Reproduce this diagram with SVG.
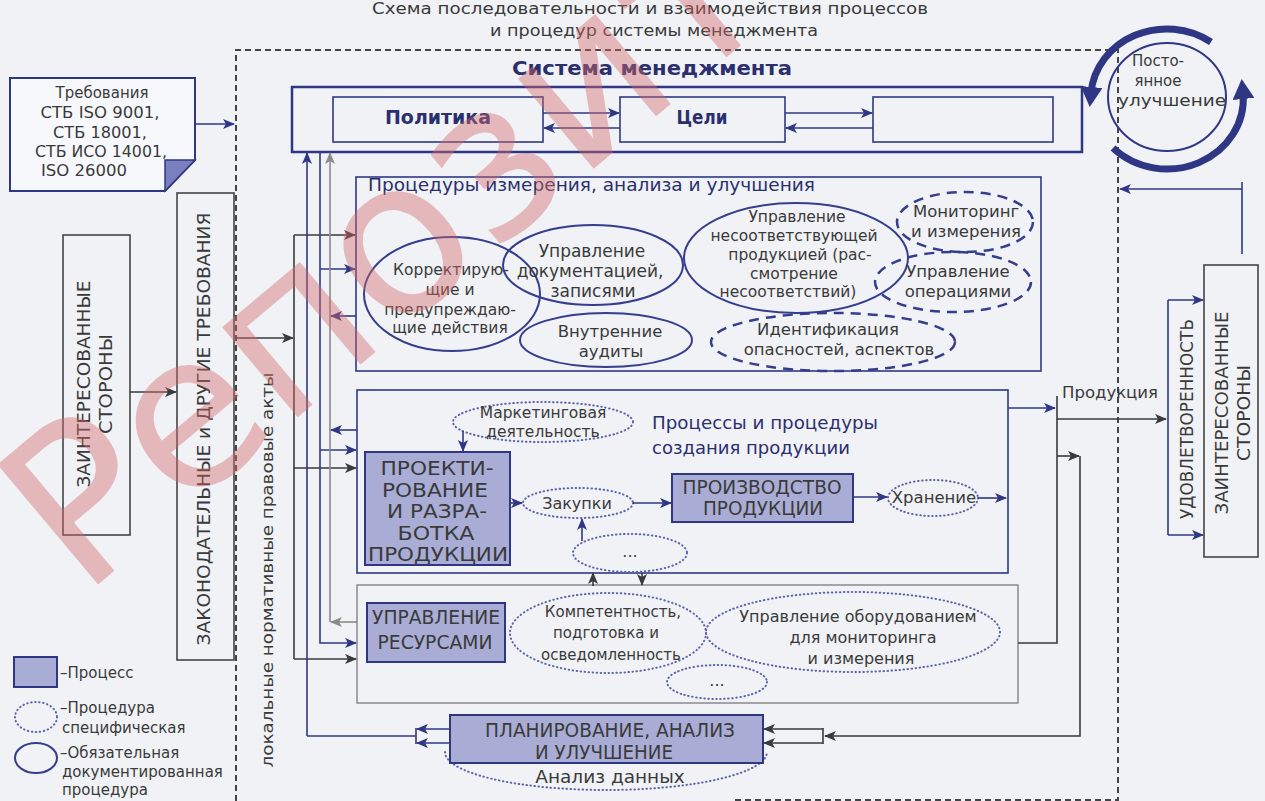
<svg xmlns="http://www.w3.org/2000/svg" width="1265" height="801" viewBox="0 0 1265 801">
<defs>
<marker id="an" markerUnits="userSpaceOnUse" markerWidth="12" markerHeight="10" refX="11" refY="5" orient="auto"><path d="M0,0 L12,5 L0,10 L3,5 z" fill="#2f3785"/></marker>
<marker id="ad" markerUnits="userSpaceOnUse" markerWidth="12" markerHeight="10" refX="11" refY="5" orient="auto"><path d="M0,0 L12,5 L0,10 L3,5 z" fill="#3a3a3a"/></marker>
<marker id="ag" markerUnits="userSpaceOnUse" markerWidth="12" markerHeight="10" refX="11" refY="5" orient="auto"><path d="M0,0 L12,5 L0,10 L3,5 z" fill="#8a8a8a"/></marker>
<marker id="ab" markerUnits="userSpaceOnUse" markerWidth="22" markerHeight="22" refX="6" refY="11" orient="auto"><path d="M0,0 L20,11 L0,22 z" fill="#2f3785"/></marker>
</defs>
<style>
.t{font-family:"DejaVu Sans",Verdana,sans-serif;fill:#3a3a3a}
.c{text-anchor:middle}
.nt{fill:#2b2f6e}
.b{font-weight:bold}
.bx{fill:none;stroke:#2f3785;stroke-width:1.6}
.pr{fill:#a9add6;stroke:#2f3785;stroke-width:2}
.el{fill:none;stroke:#353d8c;stroke-width:2}
.dt{fill:none;stroke:#5d64aa;stroke-width:2;stroke-dasharray:0.5 3.5;stroke-linecap:round}
.ds{fill:none;stroke:#353d8c;stroke-width:2.5;stroke-dasharray:10 7}
.ln{fill:none;stroke-width:1.6}
.n{stroke:#2f3785}
.d{stroke:#3a3a3a}
.g{stroke:#8a8a8a}
</style>
<rect width="1265" height="801" fill="#f0f2f6"/>

<g id="title">
<text class="t c" x="650" y="14" font-size="16.5" textLength="556" lengthAdjust="spacingAndGlyphs">Схема последовательности и взаимодействия процессов</text>
<text class="t c" x="654" y="36" font-size="16.5" textLength="328" lengthAdjust="spacingAndGlyphs">и процедур системы менеджмента</text>
</g>

<g id="boundary">
<path d="M236,801 V50 H1118 V800 H733" fill="none" stroke="#444" stroke-width="2" stroke-dasharray="6 4"/>
<text class="t c nt b" x="652" y="75" font-size="20" textLength="280" lengthAdjust="spacingAndGlyphs">Система менеджмента</text>
</g>

<g id="requirements">
<path d="M10,78 H195 V160 L165,191 H10 Z" fill="#f7f8fb" stroke="#2f3785" stroke-width="2"/>
<path d="M165,191 V160 H195 Z" fill="#7a80bd" stroke="#2f3785" stroke-width="1.5"/>
<text class="t c" x="102" y="98" font-size="15.5" textLength="93" lengthAdjust="spacingAndGlyphs">Требования</text>
<text class="t c" x="100" y="118" font-size="16" textLength="119" lengthAdjust="spacingAndGlyphs">СТБ ISO 9001,</text>
<text class="t c" x="100" y="138" font-size="16" textLength="94" lengthAdjust="spacingAndGlyphs">СТБ 18001,</text>
<text class="t c" x="101" y="157" font-size="16" textLength="132" lengthAdjust="spacingAndGlyphs">СТБ ИСО 14001,</text>
<text class="t" x="41" y="176" font-size="16" textLength="86" lengthAdjust="spacingAndGlyphs">ISO 26000</text>
</g>

<g id="parties-left">
<rect x="63" y="235" width="67" height="300" fill="none" stroke="#444" stroke-width="1.6"/>
<g transform="translate(96,384) rotate(-90)">
<text class="t c" x="0" y="-6" font-size="17" textLength="207" lengthAdjust="spacingAndGlyphs">ЗАИНТЕРЕСОВАННЫЕ</text>
<text class="t c" x="0" y="16" font-size="17" textLength="100" lengthAdjust="spacingAndGlyphs">СТОРОНЫ</text>
</g>
</g>

<g id="legislation">
<text class="t c" transform="translate(203,429) rotate(-90)" x="0" y="7" font-size="17" textLength="433" lengthAdjust="spacingAndGlyphs">ЗАКОНОДАТЕЛЬНЫЕ и ДРУГИЕ ТРЕБОВАНИЯ</text>
<rect x="177" y="193" width="57" height="467" fill="none" stroke="#444" stroke-width="1.6"/>
</g>

<g id="local-acts">
<text class="t c" transform="translate(268,570) rotate(-90)" x="0" y="5" font-size="16" textLength="395" lengthAdjust="spacingAndGlyphs">локальные нормативные правовые акты</text>
</g>

<g id="policy-block">
<rect x="292" y="87" width="790" height="65" fill="none" stroke="#2f3785" stroke-width="2.5"/>
<rect x="333" y="97" width="210" height="45" class="bx"/>
<text class="t c nt b" x="438" y="124" font-size="19" textLength="106" lengthAdjust="spacingAndGlyphs">Политика</text>
<rect x="620" y="97" width="165" height="45" class="bx"/>
<text class="t c nt b" x="702" y="124" font-size="19" textLength="51" lengthAdjust="spacingAndGlyphs">Цели</text>
<rect x="873" y="97" width="180" height="45" class="bx"/>
</g>

<g id="improvement">
<ellipse cx="1167" cy="97" rx="59" ry="54" fill="none" stroke="#2f3785" stroke-width="2"/>
<path d="M1211,42 A76,70 0 0 0 1091,93" fill="none" stroke="#2f3785" stroke-width="7" marker-end="url(#ab)"/>
<path d="M1113,148 A76,70 0 0 0 1243,93" fill="none" stroke="#2f3785" stroke-width="7" marker-end="url(#ab)"/>
<text class="t c" x="1158" y="66" font-size="15">Посто-</text>
<text class="t c" x="1158" y="86" font-size="15">янное</text>
<text class="t c" x="1172" y="106" font-size="16" textLength="108" lengthAdjust="spacingAndGlyphs">улучшение</text>
</g>

<g id="measurement">
<rect x="356" y="177" width="685" height="194" class="bx"/>
<text class="t nt" x="368" y="191" font-size="18" textLength="447" lengthAdjust="spacingAndGlyphs">Процедуры измерения, анализа и улучшения</text>
<ellipse class="el" cx="452" cy="294" rx="88" ry="57"/>
<text class="t c" x="451" y="275" font-size="15.5">Корректирую-</text>
<text class="t c" x="450" y="295" font-size="15.5">щие и</text>
<text class="t c" x="450" y="315" font-size="15.5">предупреждаю-</text>
<text class="t c" x="450" y="333" font-size="15.5">щие действия</text>
<ellipse class="el" cx="593" cy="265" rx="90" ry="40"/>
<text class="t c" x="592" y="257" font-size="17">Управление</text>
<text class="t c" x="590" y="277" font-size="17">документацией,</text>
<text class="t c" x="593" y="297" font-size="17">записями</text>
<ellipse class="el" cx="606" cy="340" rx="86" ry="27"/>
<text class="t c" x="610" y="337" font-size="16.5">Внутренние</text>
<text class="t c" x="611" y="357" font-size="16.5">аудиты</text>
<ellipse class="el" cx="796" cy="258" rx="112" ry="55"/>
<text class="t c" x="797" y="222" font-size="15.5">Управление</text>
<text class="t c" x="794" y="241" font-size="15.5">несоответствующей</text>
<text class="t c" x="800" y="260" font-size="15.5">продукцией (рас-</text>
<text class="t c" x="794" y="279" font-size="15.5">смотрение</text>
<text class="t c" x="788" y="297" font-size="15.5">несоответствий)</text>
<ellipse class="ds" cx="965" cy="222" rx="68" ry="30"/>
<text class="t c" x="966" y="217" font-size="16.5">Мониторинг</text>
<text class="t c" x="966" y="237" font-size="16.5">и измерения</text>
<ellipse class="ds" cx="953" cy="282" rx="78" ry="30"/>
<text class="t c" x="958" y="277" font-size="16.5">Управление</text>
<text class="t c" x="958" y="297" font-size="16.5">операциями</text>
<ellipse class="ds" cx="833" cy="342" rx="122" ry="29"/>
<text class="t c" x="828" y="335" font-size="16.5">Идентификация</text>
<text class="t c" x="839" y="355" font-size="16.5">опасностей, аспектов</text>
</g>

<g id="production">
<rect x="357" y="390" width="651" height="183" class="bx"/>
<text class="t nt" x="652" y="429" font-size="18" textLength="226" lengthAdjust="spacingAndGlyphs">Процессы и процедуры</text>
<text class="t nt" x="652" y="454" font-size="18" textLength="198" lengthAdjust="spacingAndGlyphs">создания продукции</text>
<ellipse class="dt" cx="543" cy="422" rx="90" ry="20"/>
<text class="t c" x="543" y="418" font-size="15.5">Маркетинговая</text>
<text class="t c" x="543" y="437" font-size="15.5">деятельность</text>
<rect x="365" y="452" width="145" height="113" class="pr"/>
<text class="t c" x="437" y="475" font-size="19.5" textLength="113" lengthAdjust="spacingAndGlyphs">ПРОЕКТИ-</text>
<text class="t c" x="435" y="497" font-size="19.5" textLength="106" lengthAdjust="spacingAndGlyphs">РОВАНИЕ</text>
<text class="t c" x="437" y="518" font-size="19.5" textLength="100" lengthAdjust="spacingAndGlyphs">И РАЗРА-</text>
<text class="t c" x="436" y="540" font-size="19.5" textLength="77" lengthAdjust="spacingAndGlyphs">БОТКА</text>
<text class="t c" x="438" y="561" font-size="19.5" textLength="140" lengthAdjust="spacingAndGlyphs">ПРОДУКЦИИ</text>
<ellipse class="dt" cx="578" cy="503" rx="55" ry="15"/>
<text class="t c" x="577" y="509" font-size="16">Закупки</text>
<rect x="672" y="474" width="181" height="48" class="pr"/>
<text class="t c" x="762" y="494" font-size="19.5" textLength="159" lengthAdjust="spacingAndGlyphs">ПРОИЗВОДСТВО</text>
<text class="t c" x="763" y="515" font-size="19.5" textLength="120" lengthAdjust="spacingAndGlyphs">ПРОДУКЦИИ</text>
<ellipse class="dt" cx="933" cy="498" rx="45" ry="18"/>
<text class="t c" x="934" y="503" font-size="16.5">Хранение</text>
<ellipse class="dt" cx="630" cy="553" rx="57" ry="19"/>
<text class="t c" x="630" y="557" font-size="16">...</text>
</g>

<g id="resources">
<rect x="357" y="585" width="661" height="118" fill="none" stroke="#7a7a7a" stroke-width="1.3"/>
<rect x="367" y="603" width="138" height="59" class="pr"/>
<text class="t c" x="436" y="624" font-size="19.5" textLength="128" lengthAdjust="spacingAndGlyphs">УПРАВЛЕНИЕ</text>
<text class="t c" x="435" y="649" font-size="19.5" textLength="115" lengthAdjust="spacingAndGlyphs">РЕСУРСАМИ</text>
<ellipse class="dt" cx="608" cy="633" rx="98" ry="40"/>
<text class="t c" x="613" y="617" font-size="15">Компетентность,</text>
<text class="t c" x="606" y="638" font-size="15">подготовка и</text>
<text class="t c" x="611" y="660" font-size="15">осведомленность</text>
<ellipse class="dt" cx="853" cy="632" rx="147" ry="40"/>
<text class="t c" x="858" y="622" font-size="16">Управление оборудованием</text>
<text class="t c" x="863" y="643" font-size="16">для мониторинга</text>
<text class="t c" x="861" y="664" font-size="16">и измерения</text>
<ellipse class="dt" cx="717" cy="682" rx="50" ry="17"/>
<text class="t c" x="717" y="686" font-size="16">...</text>
</g>

<g id="planning">
<path class="dt" d="M445,752 A161,38 0 0 0 767,752"/>
<rect x="450" y="715" width="313" height="48" class="pr"/>
<text class="t c" x="610" y="737" font-size="19.5" textLength="250" lengthAdjust="spacingAndGlyphs">ПЛАНИРОВАНИЕ, АНАЛИЗ</text>
<text class="t c" x="604" y="759" font-size="19.5" textLength="138" lengthAdjust="spacingAndGlyphs">И УЛУЧШЕНИЕ</text>
<text class="t c" x="610" y="783" font-size="18.5">Анализ данных</text>
</g>

<g id="satisfaction">
<text class="t c" transform="translate(1186,419) rotate(-90)" x="0" y="7" font-size="17" textLength="200" lengthAdjust="spacingAndGlyphs">УДОВЛЕТВОРЕННОСТЬ</text>
</g>

<g id="parties-right">
<rect x="1204" y="265" width="54" height="292" fill="none" stroke="#444" stroke-width="1.6"/>
<g transform="translate(1231,413) rotate(-90)">
<text class="t c" x="0" y="-3" font-size="17" textLength="203" lengthAdjust="spacingAndGlyphs">ЗАИНТЕРЕСОВАННЫЕ</text>
<text class="t c" x="0" y="19" font-size="17" textLength="96" lengthAdjust="spacingAndGlyphs">СТОРОНЫ</text>
</g>
</g>

<g id="product-label">
<text class="t" x="1062" y="398" font-size="16" textLength="96" lengthAdjust="spacingAndGlyphs">Продукция</text>
</g>

<g id="legend">
<rect x="14" y="657" width="43" height="30" class="pr"/>
<text class="t" x="60" y="678" font-size="15">–Процесс</text>
<ellipse class="dt" cx="36" cy="717" rx="21" ry="15" stroke-width="1.5"/>
<text class="t" x="60" y="713" font-size="15">–Процедура</text>
<text class="t" x="62" y="733" font-size="15">специфическая</text>
<ellipse class="el" cx="36" cy="758" rx="21" ry="15"/>
<text class="t" x="60" y="758" font-size="15">–Обязательная</text>
<text class="t" x="62" y="777" font-size="15">документированная</text>
<text class="t" x="62" y="795" font-size="15">процедура</text>
</g>

<g id="connectors">
<path class="ln n" d="M195,124 H234" marker-end="url(#an)"/>
<path class="ln d" d="M130,392 H176" marker-end="url(#ad)"/>
<path class="ln n" d="M543,113 H619" marker-end="url(#an)"/>
<path class="ln n" d="M620,128 H544" marker-end="url(#an)"/>
<path class="ln n" d="M785,113 H872" marker-end="url(#an)"/>
<path class="ln n" d="M873,128 H786" marker-end="url(#an)"/>
<path class="ln d" d="M294,235 V659"/>
<path class="ln d" d="M294,235 H355" marker-end="url(#ad)"/>
<path class="ln d" d="M294,468 H356" marker-end="url(#ad)"/>
<path class="ln d" d="M294,659 H356" marker-end="url(#ad)"/>
<path class="ln d" d="M236,338 H293" marker-end="url(#ad)"/>
<path class="ln n" d="M307,736 V153" marker-end="url(#an)"/>
<path class="ln n" d="M416,736 H307"/>
<path class="ln n" d="M320,152 V643 H356" marker-end="url(#an)"/>
<path class="ln n" d="M320,269 H355" marker-end="url(#an)"/>
<path class="ln n" d="M320,450 H356" marker-end="url(#an)"/>
<path class="ln g" d="M330,622 V153" marker-end="url(#ag)"/>
<path class="ln g" d="M357,622 H331" marker-end="url(#ag)"/>
<path class="ln n" d="M356,316 H331" marker-end="url(#an)"/>
<path class="ln n" d="M357,430 H331" marker-end="url(#an)"/>
<path class="ln n" d="M450,729 H417" marker-end="url(#an)"/>
<path class="ln n" d="M450,743 H417" marker-end="url(#an)"/>
<path class="ln n" d="M416,728 V744"/>
<path class="ln d" d="M823,729 H764" marker-end="url(#ad)"/>
<path class="ln d" d="M823,743 H764" marker-end="url(#ad)"/>
<path class="ln d" d="M823,728 V744"/>
<path class="ln d" d="M1080,456 V736 H825" marker-end="url(#ad)"/>
<path class="ln n" d="M463,431 V451" marker-end="url(#an)"/>
<path class="ln n" d="M510,503 H522" marker-end="url(#an)"/>
<path class="ln n" d="M633,503 H671" marker-end="url(#an)"/>
<path class="ln n" d="M853,497 H887" marker-end="url(#an)"/>
<path class="ln n" d="M978,498 H1006" marker-end="url(#an)"/>
<path class="ln n" d="M582,541 V519" marker-end="url(#an)"/>
<path class="ln d" d="M593,586 V573" marker-end="url(#ad)"/>
<path class="ln d" d="M642,573 V585" marker-end="url(#ad)"/>
<path class="ln n" d="M1008,408 H1055" marker-end="url(#an)"/>
<path class="ln d" d="M1057,396 V643 H1018"/>
<path class="ln d" d="M1057,419 H1166" marker-end="url(#ad)"/>
<path class="ln d" d="M1057,456 H1079" marker-end="url(#ad)"/>
<path class="ln n" d="M1168,300 V535"/>
<path class="ln n" d="M1168,300 H1203" marker-end="url(#an)"/>
<path class="ln n" d="M1168,535 H1203" marker-end="url(#an)"/>
<path class="ln n" d="M1242,254 V182"/>
<path class="ln n" d="M1242,189 H1120" marker-end="url(#an)"/>
</g>

<g id="watermark">
<text x="82" y="598" transform="rotate(-40 82 598)" font-family="DejaVu Sans,sans-serif" font-size="215" fill="#d46a6a" fill-opacity="0.42">Репозиторий</text>
</g>
</svg>
